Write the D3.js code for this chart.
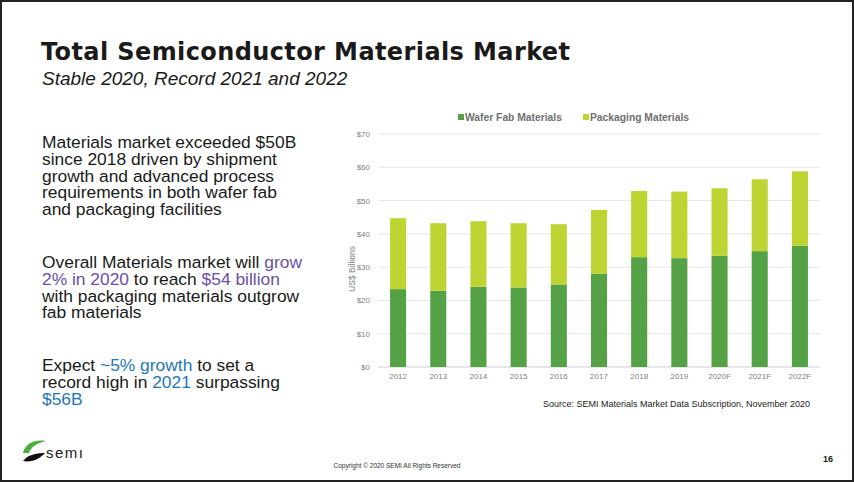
<!DOCTYPE html>
<html>
<head>
<meta charset="utf-8">
<script src="https://cdn.jsdelivr.net/npm/d3@7"></script>
<style>
  body { margin: 0; background: #fff; }
  svg { display: block; font-family: "Liberation Sans", Arial, sans-serif; }
</style>
</head>
<body>
<div id="slide"></div>
<script>
// chart data (US$ billions)
var years = ['2012','2013','2014','2015','2016','2017','2018','2019','2020F','2021F','2022F'];
var waferFab = [23.4, 22.9, 24.1, 23.9, 24.8, 28.0, 33.0, 32.7, 33.4, 34.8, 36.4];
var packaging = [21.3, 20.3, 19.7, 19.3, 18.1, 19.2, 19.9, 20.0, 20.3, 21.6, 22.4];
var seriesNames = ['Wafer Fab Materials', 'Packaging Materials'];
var yTicks = [0, 10, 20, 30, 40, 50, 60, 70];

var W = 854, H = 482;
var colors = ['#55a145', '#bed433'];

var svg = d3.select('#slide').append('svg')
    .attr('width', W)
    .attr('height', H);

svg.append('rect')
  .attr('x', 1).attr('y', 1)
  .attr('width', W - 2).attr('height', H - 2)
  .attr('fill', '#fff')
  .attr('stroke', '#222')
  .attr('stroke-width', 2);

// Title
svg.append('text')
  .attr('x', 41).attr('y', 60)
  .attr('font-size', 24).attr('font-weight', 900)
  .attr('font-family', '"Arial Black", "DejaVu Sans", sans-serif')
  .attr('fill', '#1a1a1a')
  .attr('textLength', 529)
  .attr('lengthAdjust', 'spacing')
  .text('Total Semiconductor Materials Market');

svg.append('text')
  .attr('x', 42).attr('y', 85)
  .attr('font-size', 19).attr('font-style', 'italic')
  .attr('fill', '#1a1a1a')
  .text('Stable 2020, Record 2021 and 2022');

// Left text blocks
var purple = '#6a4fa3', blue = '#1f78b4';
var para = [
  { y: 148, lines: [
    [['Materials market exceeded $50B']],
    [['since 2018 driven by shipment']],
    [['growth and advanced process']],
    [['requirements in both wafer fab']],
    [['and packaging facilities']]
  ]},
  { y: 268, lines: [
    [['Overall Materials market will '], ['grow', purple]],
    [['2% in 2020', purple], [' to reach '], ['$54 billion', purple]],
    [['with packaging materials outgrow']],
    [['fab materials']]
  ]},
  { y: 371, lines: [
    [['Expect '], ['~5% growth', blue], [' to set a']],
    [['record high in '], ['2021', blue], [' surpassing']],
    [['$56B', blue]]
  ]}
];

para.forEach(function(p){
  p.lines.forEach(function(line, i){
    var t = svg.append('text')
      .attr('x', 42).attr('y', p.y + i * 16.8)
      .attr('font-size', 17.4)
      .attr('fill', '#1a1a1a');
    line.forEach(function(seg){
      t.append('tspan')
        .attr('fill', seg[1] || '#1a1a1a')
        .text(seg[0]);
    });
  });
});

// Chart
var margin = { left: 378, right: 34, top: 134, bottom: 115 };
var width = W - margin.left - margin.right,
    height = H - margin.top - margin.bottom;

var x = d3.scaleBand()
  .domain(years)
  .range([0, width])
  .paddingInner(0.6)
  .paddingOuter(0.3);

var y = d3.scaleLinear()
  .domain([0, 70])
  .range([height, 0]);

var g = svg.append('g')
  .attr('transform', translate(margin.left, margin.top));

// gridlines
g.selectAll('.grid')
  .data(yTicks)
  .enter().append('line')
    .attr('class', 'grid')
    .attr('x1', 0).attr('x2', width)
    .attr('y1', function(d){ return y(d); })
    .attr('y2', function(d){ return y(d); })
    .attr('stroke', function(d){ return d === 0 ? '#d0d0d0' : '#e6e6e6'; })
    .attr('stroke-width', 1);

// y axis
var yAxis = g.append('g')
  .call(d3.axisLeft(y).tickValues(yTicks).tickSize(0).tickPadding(8)
    .tickFormat(function(d){ return '$' + d; }));
yAxis.select('.domain').remove();
yAxis.selectAll('text').attr('fill', '#7f7f7f').attr('font-size', 8)
  .attr('font-family', '"Liberation Sans", Arial, sans-serif');

// x axis
var xAxis = g.append('g')
  .attr('transform', translate(0, height))
  .call(d3.axisBottom(x).tickSize(0).tickPadding(6));
xAxis.select('.domain').remove();
xAxis.selectAll('text').attr('fill', '#7f7f7f').attr('font-size', 8)
  .attr('font-family', '"Liberation Sans", Arial, sans-serif');

// y label
svg.append('text')
  .attr('transform', translate(355, 269) + ' rotate(-90)')
  .attr('text-anchor', 'middle')
  .attr('font-size', 8.5)
  .attr('fill', '#7f7f7f')
  .text('US$ Billions');

// stacked bars
var rows = years.map(function(yr, i){
  return { year: yr, wafer: waferFab[i], pack: packaging[i] };
});
var stack = d3.stack().keys(['wafer', 'pack'])(rows);

g.selectAll('.series')
  .data(stack)
  .enter().append('g')
    .attr('class', 'series')
    .attr('fill', function(d, i){ return colors[i]; })
  .selectAll('rect')
  .data(function(d){ return d; })
  .enter().append('rect')
    .attr('x', function(d){ return x(d.data.year); })
    .attr('width', x.bandwidth())
    .attr('y', function(d){ return y(d[1]); })
    .attr('height', function(d){ return y(d[0]) - y(d[1]); });

// legend
var legendX = [458, 583];
var legend = svg.append('g').attr('class', 'legend');
seriesNames.forEach(function(name, i){
  legend.append('rect')
    .attr('x', legendX[i]).attr('y', 114)
    .attr('width', 6).attr('height', 6)
    .attr('fill', colors[i]);
  legend.append('text')
    .attr('x', legendX[i] + 7).attr('y', 120.5)
    .attr('font-size', 10.3).attr('font-weight', 'bold')
    .attr('fill', '#6f6f6f')
    .text(name);
});

// source
svg.append('text')
  .attr('x', 810).attr('y', 407)
  .attr('text-anchor', 'end')
  .attr('font-size', 9)
  .attr('fill', '#1a1a1a')
  .text('Source: SEMI Materials Market Data Subscription, November 2020');

// footer logo
var logo = svg.append('g').attr('transform', translate(22, 440));
logo.append('path')
  .attr('d', 'M1,13 C3,4 12,-1 24,1 C15,3 9,7 7,13 Z')
  .attr('fill', '#4caf3c');
logo.append('path')
  .attr('d', 'M1,21 C6,14 16,13 23,13 C19,18 10,23 1,21 Z')
  .attr('fill', '#111');
logo.append('text')
  .attr('x', 24).attr('y', 18)
  .attr('font-size', 15)
  .attr('fill', '#222')
  .attr('letter-spacing', 1.5)
  .text('semı');

svg.append('text')
  .attr('x', 397).attr('y', 468)
  .attr('text-anchor', 'middle')
  .attr('font-size', 6.5)
  .attr('fill', '#333')
  .text('Copyright \u00a9 2020 SEMI All Rights Reserved');

svg.append('text')
  .attr('x', 833).attr('y', 462)
  .attr('text-anchor', 'end')
  .attr('font-size', 9).attr('font-weight', 'bold')
  .attr('fill', '#222')
  .text('16');

function translate(x, y){
  return 'translate(' + x + ',' + y + ')';
}
</script>
</body>
</html>
